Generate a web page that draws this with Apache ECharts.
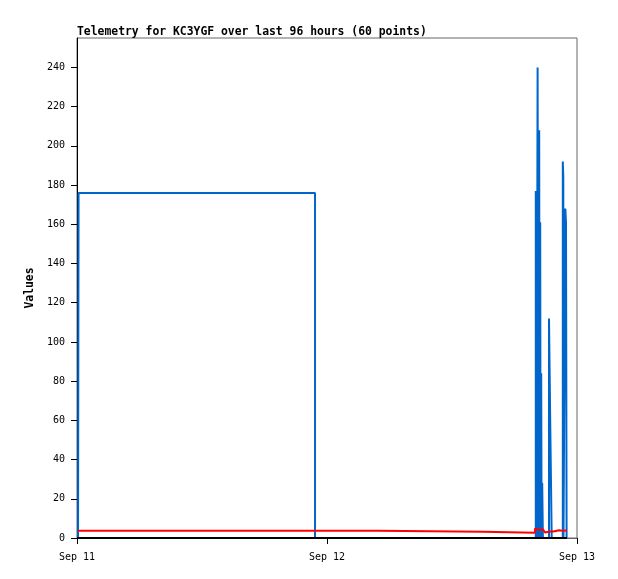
<!DOCTYPE html>
<html>
<head>
<meta charset="utf-8">
<script src="https://cdn.jsdelivr.net/npm/echarts@6/dist/echarts.min.js"></script>
<style>
  html, body { margin: 0; padding: 0; background: #fff; }
  #chart { width: 618px; height: 579px; }
</style>
</head>
<body>
<div id="chart"></div>
<script>
// hours since Sep 11 00:00 for each sample
var dayLabels = ["Sep 11", "Sep 12", "Sep 13"];

var blueHours = [0.1, 0.15, 22.85,
  44.045, 44.122, 44.218, 44.294, 44.371, 44.41, 44.467, 44.506, 44.563, 44.602, 44.659, 44.726,
  45.312, 45.437, 45.571,
  46.637, 46.685, 46.704, 46.877, 46.944, 47.002];
var blueValues = [0, 176, 0,
  177, 0, 240, 0, 208, 0, 161, 0, 84, 0, 28, 0,
  112, 56, 0,
  192, 184, 0, 168, 161, 0];

var redHours = [0.1, 28.9, 38.98, 43.97, 44.16, 44.35, 44.54, 44.74, 44.93, 45.12, 45.41, 45.7, 45.98, 46.27, 46.56, 46.75, 47.04];
var redValues = [3.7, 3.2, 2.7, 4.8, 4.2, 5.0, 4.3, 3.8, 2.8, 3.3, 3.3, 3.6, 3.9, 3.7, 4.2, 3.8, 3.8];

var blackHours = [0, 47.04];
var blackValues = [0, 0];

function pairs(xs, ys) {
  return xs.map(function (x, i) { return [x, ys[i]]; });
}

var myChart = echarts.init(document.getElementById("chart"));
var mono = "DejaVu Sans Mono";

var option = {
  animation: false,
  title: {
    text: "Telemetry for KC3YGF over last 96 hours (60 points)",
    left: 72,
    top: 22,
    textStyle: { fontFamily: mono, fontWeight: "bold", fontSize: 11.4, color: "#000" }
  },
  grid: {
    left: 77, right: 41, top: 38, bottom: 41,
    show: true, borderColor: "#666", borderWidth: 1, backgroundColor: "#fff"
  },
  xAxis: {
    type: "value",
    min: 0, max: 48, interval: 24,
    axisLine: { show: true, lineStyle: { color: "#666", width: 1 } },
    axisTick: { show: true, length: 6, lineStyle: { color: "#000" } },
    splitLine: { show: false },
    axisLabel: {
      color: "#000", fontFamily: mono, fontSize: 10, margin: 14,
      formatter: function (v) { return dayLabels[Math.round(v / 24)]; }
    }
  },
  yAxis: {
    type: "value",
    min: 0, max: 255, interval: 20,
    name: "Values",
    nameLocation: "middle",
    nameRotate: 90,
    nameGap: 40,
    nameTextStyle: { fontFamily: mono, fontWeight: "bold", fontSize: 11.4, color: "#000" },
    axisLine: { show: true, lineStyle: { color: "#000", width: 1 } },
    axisTick: { show: true, length: 6, lineStyle: { color: "#000" } },
    splitLine: { show: false },
    axisLabel: { color: "#000", fontFamily: mono, fontSize: 10, margin: 12, showMaxLabel: false }
  },
  series: [
    {
      name: "blue", type: "line", step: "end", symbol: "none",
      data: pairs(blueHours, blueValues),
      lineStyle: { color: "#0066cc", width: 2 }
    },
    {
      name: "red", type: "line", step: "end", symbol: "none",
      data: pairs(redHours, redValues),
      lineStyle: { color: "#ff0000", width: 2 }
    },
    {
      name: "black", type: "line", step: "end", symbol: "none",
      data: pairs(blackHours, blackValues),
      lineStyle: { color: "#000", width: 2 }
    }
  ]
};

myChart.setOption(option);
</script>
</body>
</html>
